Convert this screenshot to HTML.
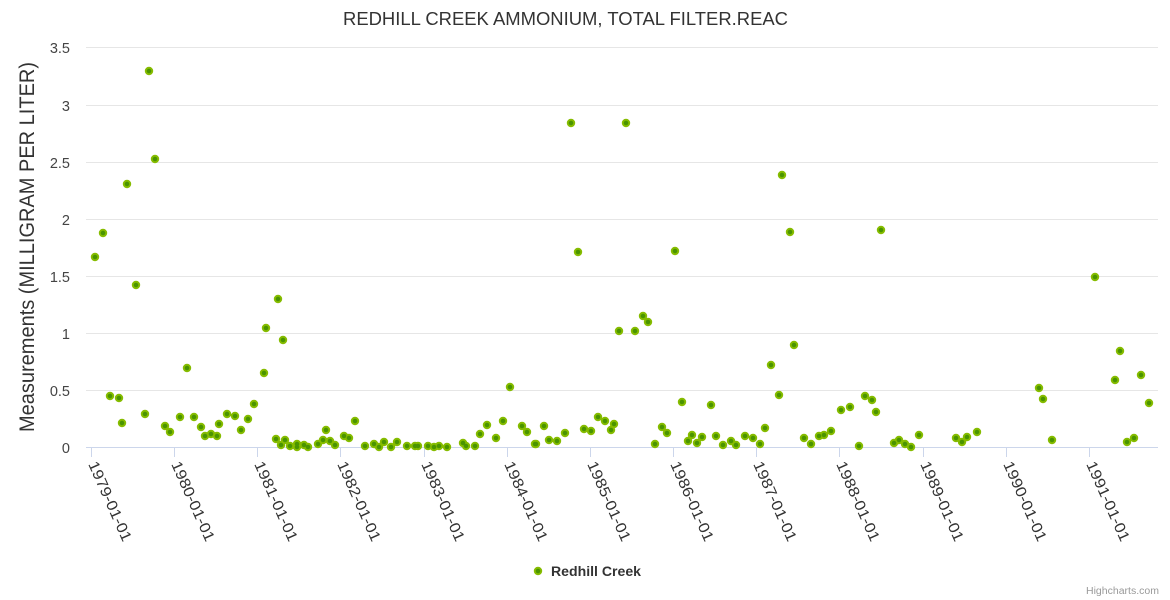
<!DOCTYPE html>
<html>
<head>
<meta charset="utf-8">
<style>
html,body{margin:0;padding:0;background:#fff;}
svg{display:block;}
text{font-family:"Liberation Sans",sans-serif;}
</style>
</head>
<body>
<svg width="1170" height="600" viewBox="0 0 1170 600" xmlns="http://www.w3.org/2000/svg">
<defs>
<path id="pts" d="M95 257h0M103 233h0M110 396h0M119 398h0M122 423h0M127 184h0M136 285h0M145 414h0M149 71h0M155 159h0M165 426h0M170 432h0M180 417h0M187 368h0M194 417h0M201 427h0M205 436h0M211 434h0M217 436h0M219 424h0M227 414h0M235 416h0M241 430h0M248 419h0M254 404h0M264 373h0M266 328h0M278 299h0M276 439h0M281 445h0M283 340h0M285 440h0M290 446h0M297 444h0M297 447h0M304 445h0M308 447h0M318 444h0M323 440h0M326 430h0M330 441h0M335 445h0M344 436h0M349 438h0M355 421h0M365 446h0M374 444h0M379 447h0M384 442h0M391 447h0M397 442h0M407 446h0M415 446h0M418 446h0M428 446h0M434 447h0M439 446h0M447 447h0M463 443h0M466 446h0M475 446h0M480 434h0M487 425h0M496 438h0M503 421h0M510 387h0M522 426h0M527 432h0M535 444h0M536 444h0M544 426h0M549 440h0M557 441h0M565 433h0M571 123h0M578 252h0M584 429h0M591 431h0M598 417h0M605 421h0M611 430h0M614 424h0M619 331h0M626 123h0M635 331h0M643 316h0M648 322h0M655 444h0M662 427h0M667 433h0M675 251h0M682 402h0M688 441h0M692 435h0M697 443h0M702 437h0M711 405h0M716 436h0M723 445h0M731 441h0M736 445h0M745 436h0M753 438h0M760 444h0M765 428h0M771 365h0M779 395h0M782 175h0M790 232h0M794 345h0M804 438h0M811 444h0M819 436h0M824 435h0M831 431h0M841 410h0M850 407h0M859 446h0M865 396h0M872 400h0M876 412h0M881 230h0M894 443h0M899 440h0M905 444h0M911 447h0M919 435h0M956 438h0M962 442h0M967 437h0M977 432h0M1039 388h0M1043 399h0M1052 440h0M1095 277h0M1115 380h0M1120 351h0M1127 442h0M1134 438h0M1141 375h0M1149 403h0M538 571h0"/>
</defs>
<rect x="0" y="0" width="1170" height="600" fill="#ffffff"/>
<text x="565.5" y="25" text-anchor="middle" font-size="18.5" fill="#333333" textLength="445" lengthAdjust="spacingAndGlyphs">REDHILL CREEK AMMONIUM, TOTAL FILTER.REAC</text>
<path d="M86 390.5H1158M86 333.5H1158M86 276.5H1158M86 219.5H1158M86 162.5H1158M86 105.5H1158M86 47.5H1158" stroke="#e6e6e6" stroke-width="1" fill="none"/>
<path d="M86 447.5H1158M91.5 447V457M174.5 447V457M257.5 447V457M340.5 447V457M424.5 447V457M507.5 447V457M590.5 447V457M673.5 447V457M756.5 447V457M839.5 447V457M923.5 447V457M1006.5 447V457M1089.5 447V457" stroke="#ccd6eb" stroke-width="1" fill="none"/>
<g font-size="14.5" fill="#444444" text-anchor="end">
<text x="70" y="453">0</text>
<text x="70" y="396">0.5</text>
<text x="70" y="339">1</text>
<text x="70" y="282">1.5</text>
<text x="70" y="225">2</text>
<text x="70" y="168">2.5</text>
<text x="70" y="111">3</text>
<text x="70" y="53">3.5</text>
</g>
<text transform="translate(34,247) rotate(-90)" text-anchor="middle" font-size="21" fill="#333333" textLength="370" lengthAdjust="spacingAndGlyphs">Measurements (MILLIGRAM PER LITER)</text>
<g font-size="15" fill="#333333">
<text transform="translate(88,464) rotate(66)" textLength="86" lengthAdjust="spacingAndGlyphs">1979-01-01</text>
<text transform="translate(171,464) rotate(66)" textLength="86" lengthAdjust="spacingAndGlyphs">1980-01-01</text>
<text transform="translate(254,464) rotate(66)" textLength="86" lengthAdjust="spacingAndGlyphs">1981-01-01</text>
<text transform="translate(337,464) rotate(66)" textLength="86" lengthAdjust="spacingAndGlyphs">1982-01-01</text>
<text transform="translate(421,464) rotate(66)" textLength="86" lengthAdjust="spacingAndGlyphs">1983-01-01</text>
<text transform="translate(504,464) rotate(66)" textLength="86" lengthAdjust="spacingAndGlyphs">1984-01-01</text>
<text transform="translate(587,464) rotate(66)" textLength="86" lengthAdjust="spacingAndGlyphs">1985-01-01</text>
<text transform="translate(670,464) rotate(66)" textLength="86" lengthAdjust="spacingAndGlyphs">1986-01-01</text>
<text transform="translate(753,464) rotate(66)" textLength="86" lengthAdjust="spacingAndGlyphs">1987-01-01</text>
<text transform="translate(836,464) rotate(66)" textLength="86" lengthAdjust="spacingAndGlyphs">1988-01-01</text>
<text transform="translate(920,464) rotate(66)" textLength="86" lengthAdjust="spacingAndGlyphs">1989-01-01</text>
<text transform="translate(1003,464) rotate(66)" textLength="86" lengthAdjust="spacingAndGlyphs">1990-01-01</text>
<text transform="translate(1086,464) rotate(66)" textLength="86" lengthAdjust="spacingAndGlyphs">1991-01-01</text>
</g>
<use href="#pts" stroke="#86bc00" stroke-width="8.4" stroke-linecap="round" fill="none"/>
<use href="#pts" stroke="#4a9400" stroke-width="4.6" stroke-linecap="round" fill="none"/>
<text x="551" y="576" font-size="13.5" font-weight="bold" fill="#333333" textLength="90" lengthAdjust="spacingAndGlyphs">Redhill Creek</text>
<text x="1159" y="594" text-anchor="end" font-size="10" fill="#999999" textLength="73" lengthAdjust="spacingAndGlyphs">Highcharts.com</text>
</svg>
</body>
</html>
